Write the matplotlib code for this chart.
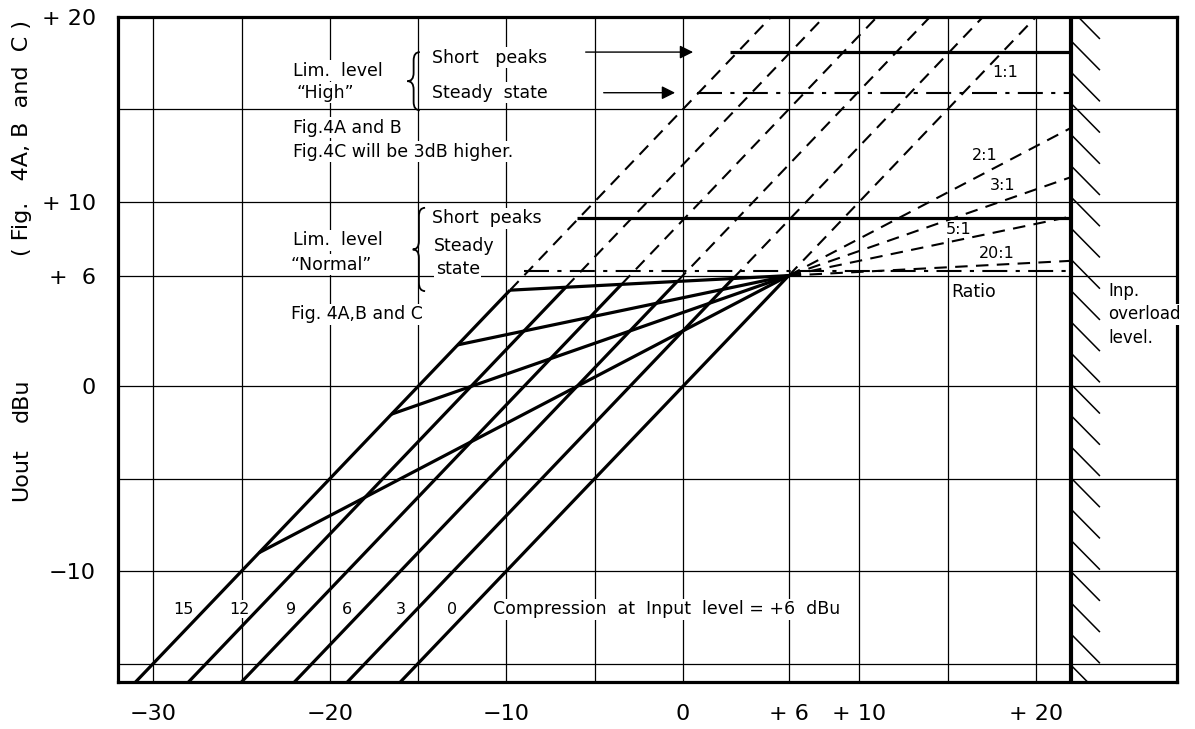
import numpy as np
import matplotlib.pyplot as plt
from matplotlib.path import Path
from matplotlib.patches import PathPatch

plt.rcParams['font.family'] = ['DejaVu Sans']

# ganancia de cada curva (compresion a +6 dBu de entrada)
ganancias = [15, 12, 9, 6, 3, 0]
etiquetasGanancia = ['15', '12', '9', '6', '3', '0']
xEtiquetasGanancia = [-28.3, -25.1, -22.2, -19.0, -16.0, -13.1]

# relaciones de compresion (todas pasan por +6/+6)
ratios = [2, 3, 5, 20]
puntoFijo = 6
nivelSobrecarga = 22

# niveles de limitacion (dBu) y donde empiezan
picosAlto, inicioPicosAlto = 18.1, 2.7
estableAlto, inicioEstableAlto = 15.9, 0.8
picosNormal, inicioPicosNormal = 9.1, -6.0
estableNormal, inicioEstableNormal = 6.25, -9.0

# ejes
limX = (-32, 28)
limY = (-16, 20)
rejillaX = [-30, -25, -20, -15, -10, -5, 0, 6, 10, 15, 20]
rejillaY = [15, 10, 6, 0, -5, -10, -15]
ticksX = [-30, -20, -10, 0, 6, 10, 20]
etiquetasX = ['\u221230', '\u221220', '\u221210', '0', '+ 6', '+ 10', '+ 20']
ticksY = [20, 10, 6, 0, -10]
etiquetasY = ['+ 20', '+ 10', '+  6', '0', '\u221210']

fig = plt.figure(figsize=(11.95, 7.29), dpi=100)
ax = fig.add_axes([0.0987, 0.0645, 0.8863, 0.9122])
ax.set_xlim(limX)
ax.set_ylim(limY)

# rejilla
for gx in rejillaX:
    ax.axvline(gx, color='black', lw=0.9, zorder=1)
for gy in rejillaY:
    ax.axhline(gy, color='black', lw=0.9, zorder=1)

T = puntoFijo
gMax = ganancias[0]

def rodilla(g, r):
    # punto donde la recta 1:1 con ganancia g corta la recta de relacion r
    x = T - g * r / (r - 1)
    return x, x + g

grueso = dict(color='black', lw=2.3, solid_capstyle='butt', zorder=3)
rayas = dict(color='black', lw=1.5, dashes=(6, 4), zorder=3)

# rectas 1:1 (parte lineal) hasta la recta 20:1
for g in ganancias:
    x0 = limY[0] - g
    if g == 0:
        xk, yk = T, T
    else:
        xk, yk = rodilla(g, ratios[-1])
    ax.plot([x0, xk], [x0 + g, yk], **grueso)
    # continuacion a rayas (sin limitacion)
    ax.plot([xk, limY[1] - g], [yk, limY[1]], **rayas)

# tramos comprimidos (solidos) y su continuacion a rayas hasta la sobrecarga
for r in ratios:
    xk, yk = rodilla(gMax, r)
    ax.plot([xk, T], [yk, T], **grueso)
    ax.plot([T, nivelSobrecarga], [T, T + (nivelSobrecarga - T) / r], **rayas)

# niveles de limitacion
ax.plot([inicioPicosAlto, nivelSobrecarga], [picosAlto, picosAlto], **grueso)
ax.plot([inicioPicosNormal, nivelSobrecarga], [picosNormal, picosNormal], **grueso)
ax.plot([inicioEstableAlto, nivelSobrecarga], [estableAlto, estableAlto],
        color='black', lw=1.5, dashes=(12, 4, 2, 4), zorder=3)
ax.plot([inicioEstableNormal, nivelSobrecarga], [estableNormal, estableNormal],
        color='black', lw=1.5, dashes=(12, 4, 2, 4), zorder=3)

# nivel de sobrecarga con rayado
ax.axvline(nivelSobrecarga, color='black', lw=3, zorder=4)
for y0 in np.arange(-15.1, 22, 1.69):
    ax.plot([nivelSobrecarga, nivelSobrecarga + 1.6], [y0, y0 - 1.55],
            color='black', lw=1.1, zorder=3)

# flechas
flecha = dict(arrowstyle='-|>', lw=1.0, color='black', mutation_scale=20)
ax.annotate('', xy=(0.74, picosAlto), xytext=(-5.66, picosAlto), arrowprops=flecha)
ax.annotate('', xy=(-0.28, estableAlto), xytext=(-4.64, estableAlto), arrowprops=flecha)

# llaves
def llave(x, y0, y1, w=0.7, h=0.45):
    ym = (y0 + y1) / 2
    xm = x + w / 2
    verts = [(x + w, y1), (xm, y1), (xm, y1 - h), (xm, ym + h), (xm, ym), (x, ym),
             (xm, ym), (xm, ym - h), (xm, y0 + h), (xm, y0), (x + w, y0)]
    codes = [Path.MOVETO, Path.CURVE3, Path.CURVE3, Path.LINETO, Path.CURVE3, Path.CURVE3,
             Path.CURVE3, Path.CURVE3, Path.LINETO, Path.CURVE3, Path.CURVE3]
    ax.add_patch(PathPatch(Path(verts, codes), fill=False, lw=1.3, zorder=3))

llave(-15.6, 14.95, 18.1)
llave(-15.3, 5.16, 9.67)

# textos
caja = dict(facecolor='white', edgecolor='none', pad=1.0)
fs = 12.5
textos = [
    (-22.1, 17.1, 'Lim.  level'), (-21.9, 15.9, '\u201cHigh\u201d'),
    (-14.2, 17.8, 'Short   peaks'), (-14.2, 15.9, 'Steady  state'),
    (-22.1, 14.0, 'Fig.4A and B'), (-22.1, 12.7, 'Fig.4C will be 3dB higher.'),
    (-22.1, 7.9, 'Lim.  level'), (-22.2, 6.6, '\u201cNormal\u201d'),
    (-14.2, 9.1, 'Short  peaks'), (-14.1, 7.6, 'Steady'), (-14.0, 6.35, 'state'),
    (-22.2, 3.9, 'Fig. 4A,B and C'),
    (15.2, 5.1, 'Ratio'),
]
for tx, ty, s in textos:
    ax.text(tx, ty, s, fontsize=fs, ha='left', va='center', bbox=caja, zorder=2)

for ty, s in [(5.15, 'Inp.'), (3.9, 'overload'), (2.6, 'level.')]:
    ax.text(24.1, ty, s, fontsize=12, ha='left', va='center', bbox=caja, zorder=5)

for tx, ty, s in [(17.55, 17.0, '1:1'), (16.4, 12.5, '2:1'), (17.4, 10.9, '3:1'),
                  (14.9, 8.5, '5:1'), (16.8, 7.2, '20:1')]:
    ax.text(tx, ty, s, fontsize=11.5, ha='left', va='center', bbox=caja, zorder=2)

for tx, s in zip(xEtiquetasGanancia, etiquetasGanancia):
    ax.text(tx, -12.07, s, fontsize=11.5, ha='center', va='center', bbox=caja, zorder=2)
ax.text(-10.75, -12.07, 'Compression  at  Input  level = +6  dBu', fontsize=fs,
        ha='left', va='center', bbox=caja, zorder=2)

# ejes y marcos
for s in ax.spines.values():
    s.set_linewidth(2.3)
ax.set_xticks(ticksX)
ax.set_xticklabels(etiquetasX, fontsize=16)
ax.set_yticks(ticksY)
ax.set_yticklabels(etiquetasY, fontsize=16)
ax.tick_params(length=0, pad=16)

fig.text(0.018, 1 - 475 / 729, 'Uout', rotation=90, fontsize=16, ha='center', va='center')
fig.text(0.018, 1 - 400 / 729, 'dBu', rotation=90, fontsize=16, ha='center', va='center')
fig.text(0.018, 1 - 138 / 729, '( Fig.   4A, B  and  C )', rotation=90, fontsize=16,
         ha='center', va='center')

plt.savefig('out.png', dpi=100)
